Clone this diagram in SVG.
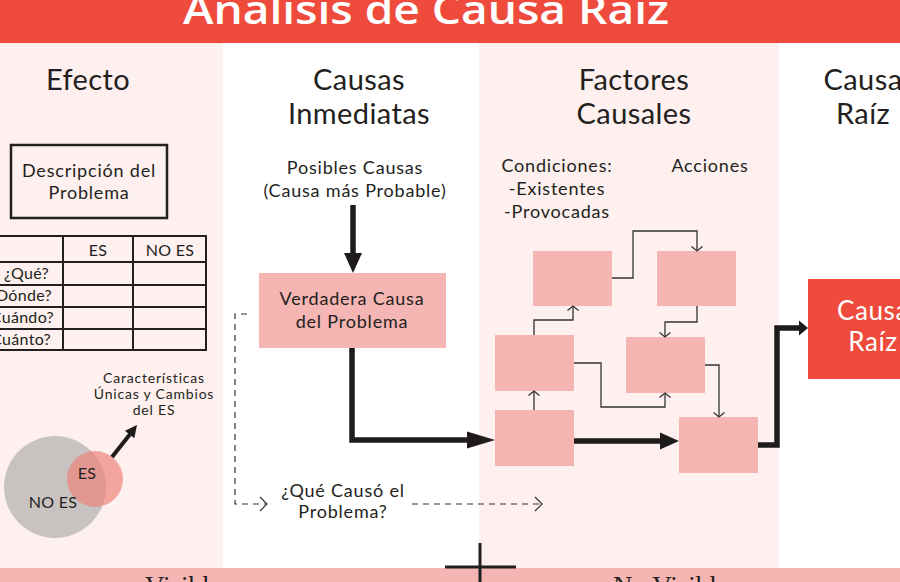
<svg xmlns="http://www.w3.org/2000/svg" width="900" height="582" viewBox="0 0 900 582">
<style>
text{font-family:Lato,"Liberation Sans",sans-serif;fill:#231f20}
.hdr{font-size:29px;letter-spacing:0.4px;text-anchor:middle}
.b17{font-size:18px;letter-spacing:0.8px;text-anchor:middle}
.b18{font-size:18px;letter-spacing:0.8px;text-anchor:middle}
.b15{font-size:16px;letter-spacing:0.3px}
.mid{text-anchor:middle}
.end{text-anchor:end}
.small{font-size:14px;letter-spacing:0.8px;text-anchor:middle}
.box{fill:#f5b5b3}
.thin{fill:none;stroke:#333;stroke-width:1.3}
.thick{fill:none;stroke:#1f1b1c;stroke-width:5.5}
.dash{fill:none;stroke:#333;stroke-width:1.2;stroke-dasharray:6 5}
.tbl{stroke:#231f20;stroke-width:2;fill:none}
.head{fill:#1f1b1c}
.vis{font-family:"Liberation Serif",serif;font-size:27px}
.white{font-size:26px;letter-spacing:0.6px;text-anchor:middle;fill:#ffffff}
</style>
<defs>
<marker id="chev" viewBox="-7 -7 9 14" refX="0" refY="0" markerWidth="9" markerHeight="14" markerUnits="userSpaceOnUse" orient="auto">
<path d="M-4.5,-5.5 L0,0 L-4.5,5.5" fill="none" stroke="#333" stroke-width="1.3"/>
</marker>
<marker id="dchev" viewBox="-9 -9 11 18" refX="0" refY="0" markerWidth="11" markerHeight="18" markerUnits="userSpaceOnUse" orient="auto">
<path d="M-7,-7 L0,0 L-7,7" fill="none" stroke="#333" stroke-width="1.2"/>
</marker>
</defs>

<g id="background">
<rect x="0" y="0" width="900" height="582" fill="#ffffff"/>
<rect x="0" y="43" width="223" height="525" fill="#fdf0ee"/>
<rect x="479" y="43" width="300" height="525" fill="#fdf0ee"/>
<rect x="0" y="568" width="900" height="14" fill="#f5b5b3"/>
<rect x="0" y="0" width="900" height="43" fill="#ef4b3d"/>
<text x="426" y="24" text-anchor="middle" font-size="40" font-weight="600" textLength="486" lengthAdjust="spacingAndGlyphs" style="font-family:'Open Sans','Liberation Sans',sans-serif;fill:#ffffff">Análisis de Causa Raíz</text>
<line x1="480" y1="543" x2="480" y2="582" stroke="#231f20" stroke-width="3"/>
<line x1="445" y1="567" x2="516" y2="567" stroke="#231f20" stroke-width="3"/>
<text class="vis" x="145" y="595">Visible</text>
<text class="vis" x="613" y="595">No Visible</text>
</g>

<g id="headers">
<text class="hdr" x="88" y="90">Efecto</text>
<text class="hdr" x="359" y="90">Causas</text>
<text class="hdr" x="359" y="124">Inmediatas</text>
<text class="hdr" x="634" y="90">Factores</text>
<text class="hdr" x="634" y="124">Causales</text>
<text class="hdr" x="863" y="90">Causa</text>
<text class="hdr" x="863" y="124">Raíz</text>
</g>

<g id="descripcion">
<rect x="11" y="145" width="156" height="73" fill="none" stroke="#231f20" stroke-width="2.5"/>
<text class="b18" x="89" y="177">Descripción del</text>
<text class="b18" x="89" y="199">Problema</text>
</g>

<g id="tabla">
<path class="tbl" d="M-2,236 H206 V350 H-2 M-2,262 H206 M-2,285 H206 M-2,307 H206 M-2,329 H206 M63,236 V350 M133,236 V350"/>
<text class="b15 mid" x="98" y="256">ES</text>
<text class="b15 mid" x="170" y="256">NO ES</text>
<text class="b15 end" x="49" y="279">¿Qué?</text>
<text class="b15 end" x="52" y="301">¿Dónde?</text>
<text class="b15 end" x="54" y="323">¿Cuándo?</text>
<text class="b15 end" x="51" y="345">¿Cuánto?</text>
</g>

<g id="circulos">
<circle cx="55" cy="487" r="51" fill="#c8c3c1"/>
<circle cx="95" cy="479" r="28" fill="#ee8079" fill-opacity="0.68"/>
<text class="b15 mid" x="87" y="479">ES</text>
<text class="b15 mid" x="53" y="508">NO ES</text>
<line x1="112" y1="457" x2="131" y2="433" stroke="#1f1b1c" stroke-width="4"/>
<polygon class="head" points="137,425 134.3,438.2 124.9,430.8"/>
<text class="small" x="154" y="383">Características</text>
<text class="small" x="154" y="399">Únicas y Cambios</text>
<text class="small" x="154" y="415">del ES</text>
</g>

<g id="posibles">
<text class="b17" x="355" y="174">Posibles Causas</text>
<text class="b17" x="355" y="197">(Causa más Probable)</text>
</g>

<g id="verdadera">
<rect class="box" x="259" y="273" width="187" height="75"/>
<text class="b18" x="352" y="305">Verdadera Causa</text>
<text class="b18" x="352" y="328">del Problema</text>
</g>

<g id="que-causo">
<text class="b17" x="343" y="497">¿Qué Causó el</text>
<text class="b17" x="343" y="518">Problema?</text>
</g>

<g id="condiciones">
<text class="b17" x="557" y="172">Condiciones:</text>
<text class="b17" x="557" y="195">-Existentes</text>
<text class="b17" x="557" y="218">-Provocadas</text>
</g>
<g id="acciones">
<text class="b17" x="710" y="172">Acciones</text>
</g>

<g id="f1"><rect class="box" x="533" y="251" width="79" height="55"/></g>
<g id="f2"><rect class="box" x="657" y="251" width="79" height="55"/></g>
<g id="f3"><rect class="box" x="495" y="335" width="79" height="56"/></g>
<g id="f4"><rect class="box" x="626" y="337" width="79" height="56"/></g>
<g id="f5"><rect class="box" x="495" y="410" width="79" height="56"/></g>
<g id="f6"><rect class="box" x="679" y="417" width="79" height="56"/></g>

<g id="causa-raiz">
<rect x="808" y="279" width="100" height="100" fill="#ef4b3d"/>
<text class="white" x="873" y="320">Causa</text>
<text class="white" x="873" y="351">Raíz</text>
</g>

<g id="connectors">
<line class="thick" x1="353" y1="205" x2="353" y2="256"/>
<polygon class="head" points="344,253 362,253 353,273"/>
<path class="thick" d="M352,348 V440 H470"/>
<polygon class="head" points="467,431.5 467,448.5 495,440"/>
<path class="thick" d="M574,441 H662"/>
<polygon class="head" points="660,432.5 660,449.5 679,441"/>
<path class="thick" d="M758,445 H777 V328 H801"/>
<polygon class="head" points="799,320.5 799,335.5 808,328"/>

<path class="dash" d="M247,314 H235 V504 H267" marker-end="url(#dchev)"/>
<path class="dash" d="M412,504 H542" marker-end="url(#dchev)"/>

<path class="thin" d="M534,410 V391" marker-end="url(#chev)"/>
<path class="thin" d="M534,335 V320 H573 V306" marker-end="url(#chev)"/>
<path class="thin" d="M612,278 H633 V231 H697 V251" marker-end="url(#chev)"/>
<path class="thin" d="M697,306 V322 H665 V337" marker-end="url(#chev)"/>
<path class="thin" d="M574,363 H601 V407 H665 V393" marker-end="url(#chev)"/>
<path class="thin" d="M705,365 H719 V417" marker-end="url(#chev)"/>
</g>
</svg>
